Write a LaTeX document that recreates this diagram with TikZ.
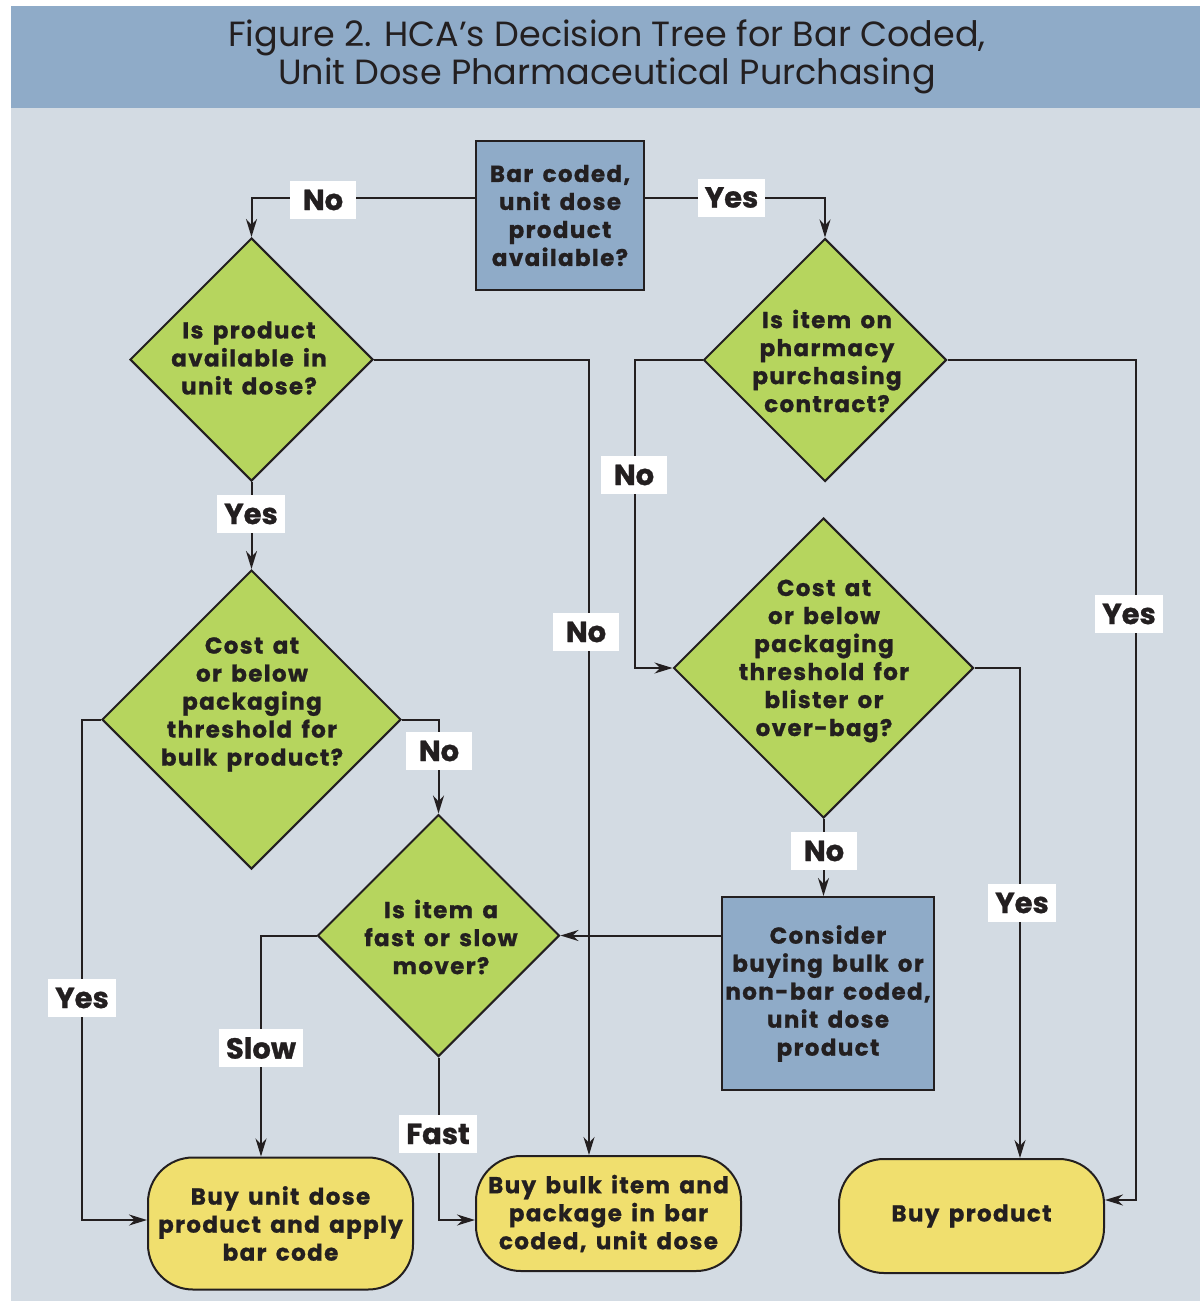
\documentclass[tikz,border=0pt]{standalone}
\usepackage{fontspec}
\setmainfont{Poppins}[BoldFeatures={FakeBold=1.0}]
\newfontfamily\nodefont{Poppins}[BoldFeatures={FakeBold=1.0,LetterSpace=6},WordSpace=1.5]
\usetikzlibrary{shapes.geometric,arrows.meta,calc}
\definecolor{band}{HTML}{8FABC8}
\definecolor{bg}{HTML}{D3DBE3}
\definecolor{grn}{HTML}{B6D55E}
\definecolor{yel}{HTML}{F0DF6E}
\definecolor{ink}{HTML}{231F20}
\begin{document}
\begin{tikzpicture}[x=1pt,y=-1pt,
  dia/.style={diamond, draw=ink, line width=2pt, fill=grn, inner sep=0pt, minimum size=#1},
  txt/.style={text=ink, font=\nodefont\bfseries\fontsize{23}{28}\selectfont, align=center, inner sep=0pt},
  bbox/.style={txt, draw=ink, line width=2pt, fill=band},
  term/.style={txt, draw=ink, line width=2pt, fill=yel, rounded corners=45pt, minimum width=265pt},
  lab/.style={fill=white, text=ink, font=\bfseries\fontsize{29}{29}\selectfont, minimum height=38pt, minimum width=66pt, inner xsep=7pt, inner ysep=0pt},
  arr/.style={draw=ink, line width=2pt, -{Stealth[length=18pt,width=11pt]}}
]
\useasboundingbox (0,0) rectangle (1200,1303);
\fill[white] (0,0) rectangle (1200,1303);
\fill[bg] (11,108) rectangle (1200,1301);
\fill[band] (11,6) rectangle (1200,108);
\node[text=ink, font=\fontsize{35}{38}\selectfont, align=center, inner sep=0pt] (title) at (607,57)
  {Figure 2. HCA’s Decision Tree for Bar Coded,\\Unit Dose Pharmaceutical Purchasing};

% nodes
\node[bbox, minimum width=168pt, minimum height=149pt] (top) at (560,215.5) {Bar coded,\\unit dose\\product\\available?};
\node[dia=243pt] (d1) at (251.5,359.5) {};
\node[txt] (d1t) at (249,358) {Is product\\available in\\unit dose?};
\node[dia=243pt] (d2) at (825,360) {};
\node[txt] (d2t) at (827,361) {Is item on\\pharmacy\\purchasing\\contract?};
\node[dia=299pt] (d3) at (251.5,719.5) {};
\node[txt] (d3t) at (252,704.5) {Cost at\\or below\\packaging\\threshold for\\bulk product?};
\node[dia=300pt] (d4) at (823.5,668) {};
\node[txt] (d4t) at (824,661) {Cost at\\or below\\packaging\\threshold for\\blister or\\over-bag?};
\node[dia=242pt] (d5) at (438.5,935.5) {};
\node[txt] (d5t) at (441,937) {Is item a\\fast or slow\\mover?};
\node[bbox, minimum width=212pt, minimum height=193pt] (bx) at (828,993.5) {Consider\\buying bulk or\\non-bar coded,\\unit dose\\product};
\node[term, minimum height=132pt] (t1) at (280.5,1223.5) {Buy unit dose\\product and apply\\bar code};
\node[term, minimum height=115pt] (t2) at (608.5,1213.5) {Buy bulk item and\\package in bar\\coded, unit dose};
\node[term, minimum height=114pt] (t3) at (971.5,1216) {Buy product};

% connectors
\draw[arr] ([yshift=17.5pt]top.west) -| (d1.north);
\draw[arr] ([yshift=17.5pt]top.east) -| (d2.north);
\draw[arr] (d1.east) -| ([xshift=-19.5pt]t2.north);
\draw[arr] (d1.south) -- (d3.north);
\draw[arr] (d2.west) -- ++(-68,0) |- (d4.west);
\draw[arr] (d2.east) -| ([xshift=31pt,yshift=16pt]t3.east) -- ([yshift=16pt]t3.east);
\draw[arr] (d3.west) -| ([xshift=-65pt,yshift=3.5pt]t1.west) -- ([yshift=3.5pt]t1.west);
\draw[arr] (d3.east) -| (d5.north);
\draw[arr] (d4.south) -- (d4.south |- bx.north);
\draw[arr] (d4.east) -| ([xshift=48.5pt]t3.north);
\draw[arr] (bx.west |- d5.east) -- (d5.east);
\draw[arr] (d5.west) -| ([xshift=-19.5pt]t1.north);
\draw[arr] (d5.south) |- ([yshift=-6.5pt]t2.west);

% labels
\node[lab] (l1) at (323,200) {No};
\node[lab] (l2) at (731.5,197.5) {Yes};
\node[lab] (l3) at (251,514) {Yes};
\node[lab] (l4) at (586,632) {No};
\node[lab] (l5) at (634,475) {No};
\node[lab] (l6) at (1129,614) {Yes};
\node[lab] (l7) at (439,751) {No};
\node[lab] (l8) at (82,998) {Yes};
\node[lab] (l9) at (824,851) {No};
\node[lab] (l10) at (1022,903) {Yes};
\node[lab] (l11) at (261,1048) {Slow};
\node[lab] (l12) at (438,1134) {Fast};
\end{tikzpicture}
\end{document}
